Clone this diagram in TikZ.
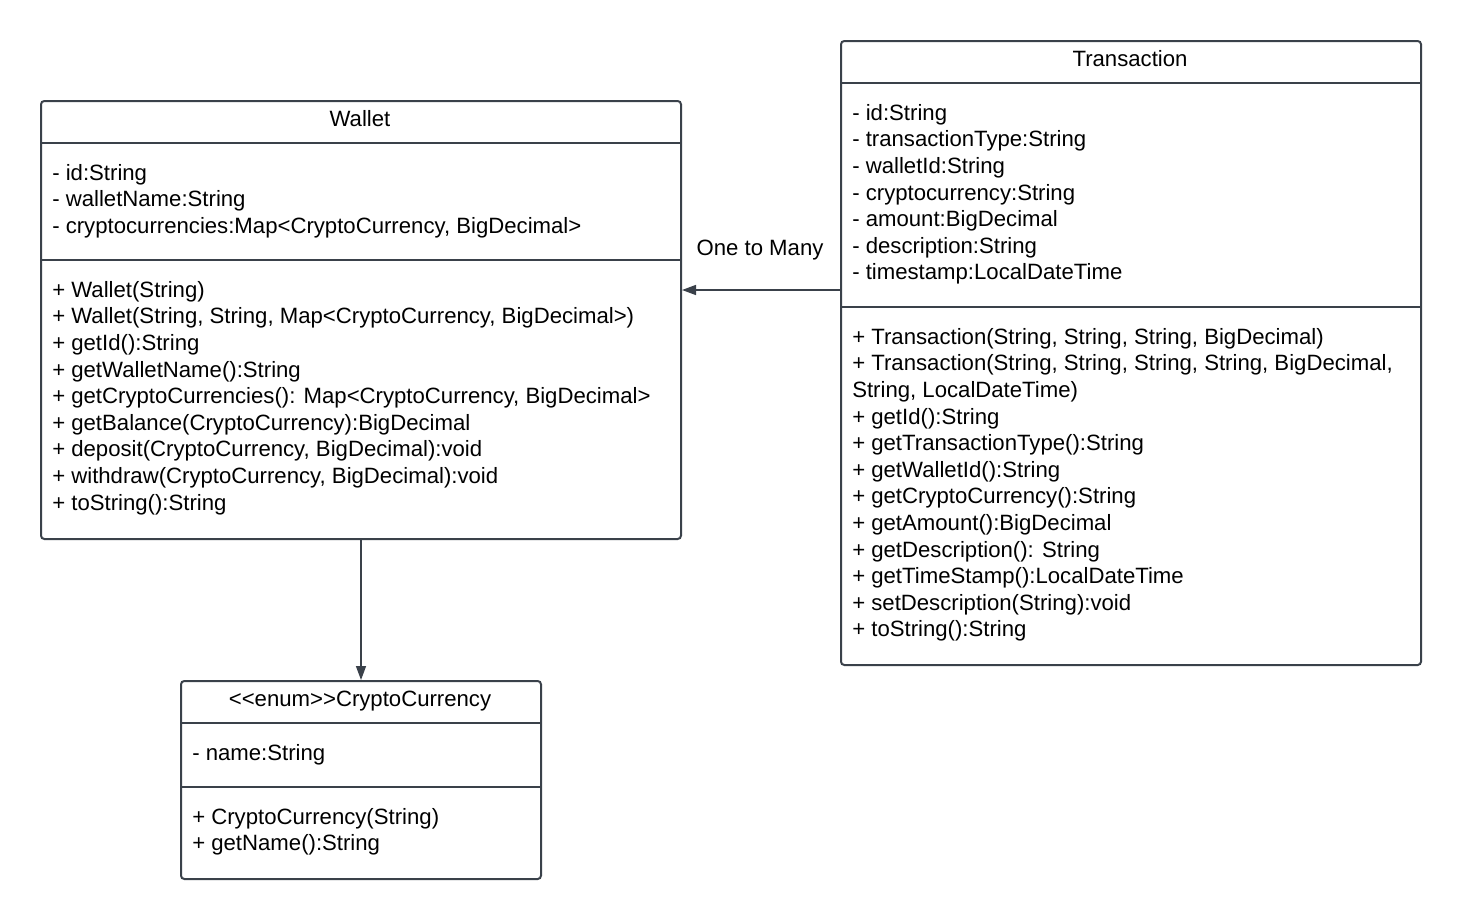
\documentclass[tikz,border=0pt]{standalone}
\usepackage{fontspec}
\setmainfont{Liberation Sans}[Ligatures=TeXOff]
\usetikzlibrary{arrows.meta}
\definecolor{lc}{HTML}{3A414A}
\tikzset{
  umlbox/.style={draw=lc, line width=1.5pt, rounded corners=2.5pt, inner sep=0pt, anchor=north west},
  divider/.style={draw=lc, line width=1.5pt},
  txt/.style={inner sep=0pt, anchor=north west, align=left, font=\fontsize{16.62pt}{19.95pt}\selectfont},
  ttl/.style={inner sep=0pt, anchor=base, font=\fontsize{16.62pt}{19.95pt}\selectfont},
  conn/.style={draw=lc, line width=1.1pt, -{Triangle[length=10.5pt,width=7.5pt]}}
}
\begin{document}
\begin{tikzpicture}[x=0.75pt,y=-0.75pt]
\useasboundingbox (0,0) rectangle (1460,918);
% Wallet
\node[umlbox, minimum width=640*0.75pt, minimum height=438*0.75pt] (wallet) at (40,100) {};
\draw[divider] (wallet.west |- 0,143) -- (wallet.east |- 0,143);
\draw[divider] (wallet.west |- 0,260) -- (wallet.east |- 0,260);
\node[ttl] (wt) at (360,126) {Wallet};
\node[txt] (wa) at (52,164) {- id:String\\- walletName:String\\- cryptocurrencies:Map<CryptoCurrency, BigDecimal>};
\node[txt] (wm) at (52,281) {+ Wallet(String)\\+ Wallet(String, String, Map<CryptoCurrency, BigDecimal>)\\+ getId():String\\+ getWalletName():String\\+ getCryptoCurrencies(): Map<CryptoCurrency, BigDecimal>\\+ getBalance(CryptoCurrency):BigDecimal\\+ deposit(CryptoCurrency, BigDecimal):void\\+ withdraw(CryptoCurrency, BigDecimal):void\\+ toString():String};
% Transaction
\node[umlbox, minimum width=580*0.75pt, minimum height=624*0.75pt] (trans) at (840,40) {};
\draw[divider] (trans.west |- 0,83) -- (trans.east |- 0,83);
\draw[divider] (trans.west |- 0,307) -- (trans.east |- 0,307);
\node[ttl] (tt) at (1130,66) {Transaction};
\node[txt] (ta) at (852,104) {- id:String\\- transactionType:String\\- walletId:String\\- cryptocurrency:String\\- amount:BigDecimal\\- description:String\\- timestamp:LocalDateTime};
\node[txt] (tm) at (852,328) {+ Transaction(String, String, String, BigDecimal)\\+ Transaction(String, String, String, String, BigDecimal,\\String, LocalDateTime)\\+ getId():String\\+ getTransactionType():String\\+ getWalletId():String\\+ getCryptoCurrency():String\\+ getAmount():BigDecimal\\+ getDescription(): String\\+ getTimeStamp():LocalDateTime\\+ setDescription(String):void\\+ toString():String};
% CryptoCurrency
\node[umlbox, minimum width=360*0.75pt, minimum height=198*0.75pt] (crypto) at (180,680) {};
\draw[divider] (crypto.west |- 0,723) -- (crypto.east |- 0,723);
\draw[divider] (crypto.west |- 0,787) -- (crypto.east |- 0,787);
\node[ttl] (ct) at (360,706) {<{}<enum>{}>CryptoCurrency};
\node[txt] (ca) at (192,744) {- name:String};
\node[txt] (cm) at (192,808) {+ CryptoCurrency(String)\\+ getName():String};
% connectors
\draw[conn] (trans.west |- 0,290) -- (wallet.east |- 0,290);
\node[ttl] (lbl) at (760,255) {One to Many};
\draw[conn] (wallet.south) -- (crypto.north);
\end{tikzpicture}
\end{document}
